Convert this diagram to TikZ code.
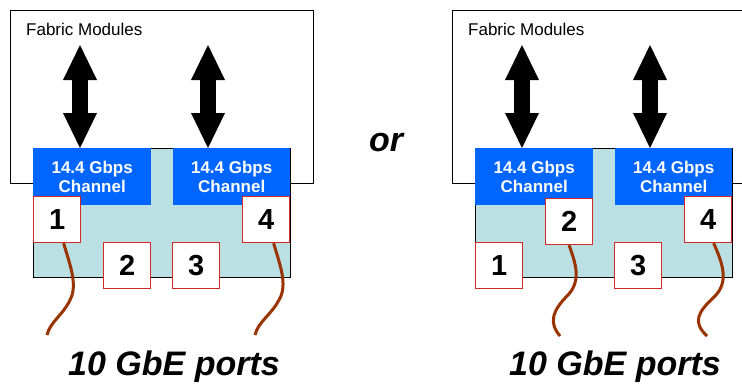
\documentclass[tikz,border=0pt]{standalone}
\usepackage{fontspec}
\setmainfont{Liberation Sans}
\usetikzlibrary{positioning, arrows.meta}

\definecolor{chanblue}{RGB}{0,102,255}
\definecolor{boardcyan}{RGB}{186,224,227}
\definecolor{portred}{RGB}{215,40,40}
\definecolor{cablebrown}{RGB}{153,51,0}

\tikzset{
  fabric/.style={draw=black, line width=1.3pt, minimum width=303pt, minimum height=173pt,
    anchor=north west, inner sep=0pt},
  board/.style={draw=black, line width=1pt, fill=boardcyan, minimum width=257pt,
    minimum height=129pt, anchor=north west, inner sep=0pt},
  channel/.style={fill=chanblue, text=white, align=center, minimum height=57pt,
    anchor=north west, inner sep=0pt, font=\bfseries\fontsize{17}{19}\selectfont},
  port/.style={draw=portred, line width=1.2pt, fill=white, minimum width=47pt,
    minimum height=46pt, anchor=north west, inner sep=0pt,
    font=\bfseries\fontsize{29}{30}\selectfont},
  bus/.style={line width=16pt,
    {Triangle[width=34pt,length=35pt,line width=0pt]}-{Triangle[width=34pt,length=35pt,line width=0pt]}},
  cable/.style={draw=cablebrown, line width=3pt},
  caption/.style={font=\bfseries\itshape\fontsize{34}{38}\selectfont},
  fablabel/.style={anchor=base west, inner sep=0pt, font=\fontsize{17}{19}\selectfont},
}

\begin{document}
\begin{tikzpicture}[x=1pt, y=-1pt]
  \useasboundingbox (0,0) rectangle (742,386);

  % left: ports split over both channels
  \node[fabric] (fabA) at (10,10) {};
  \node[fablabel] (fabtxtA) at (26,35) {Fabric Modules};
  \coordinate (topA1) at (80,45);
  \coordinate (topA2) at (208,45);
  \node[board] (boardA) at (33,148) {};
  \node[channel, minimum width=118pt] (chanA1) at (33,148) {14.4 Gbps\\Channel};
  \node[channel, minimum width=117pt] (chanA2) at (173,148) {14.4 Gbps\\Channel};
  \draw[bus] (topA1) -- (topA1 |- chanA1.north);
  \draw[bus] (topA2) -- (topA2 |- chanA2.north);
  \node[port] (portA1) at (33,196) {1};
  \node[port] (portA2) at (103,242) {2};
  \node[port] (portA3) at (172,242) {3};
  \node[port] (portA4) at (242,196) {4};
  \coordinate (endA1) at (47,335);
  \coordinate (endA4) at (255,335);
  \draw[cable] ([xshift=6.5]portA1.south) .. controls (70,265) and (78,285) .. (70,300)
    .. controls (63,315) and (50,322) .. (endA1);
  \draw[cable] ([xshift=7.5]portA4.south) .. controls (280,265) and (288,285) .. (279,300)
    .. controls (271,315) and (258,322) .. (endA4);
  \node[caption, anchor=base] (capA) at (174,375) {10 GbE ports};

  \node[caption] (or) at (386,143) {or};

  % right: ports paired per channel
  \node[fabric] (fabB) at (452,10) {};
  \node[fablabel] (fabtxtB) at (468,35) {Fabric Modules};
  \coordinate (topB1) at (522,45);
  \coordinate (topB2) at (650,45);
  \node[board] (boardB) at (475,148) {};
  \node[channel, minimum width=118pt] (chanB1) at (475,148) {14.4 Gbps\\Channel};
  \node[channel, minimum width=117pt] (chanB2) at (615,148) {14.4 Gbps\\Channel};
  \draw[bus] (topB1) -- (topB1 |- chanB1.north);
  \draw[bus] (topB2) -- (topB2 |- chanB2.north);
  \node[port] (portB1) at (475,242) {1};
  \node[port] (portB2) at (545,198) {2};
  \node[port] (portB3) at (614,242) {3};
  \node[port] (portB4) at (684,196) {4};
  \coordinate (endB2) at (560,336);
  \coordinate (endB4) at (707,336);
  \draw[cable] (portB2.south) .. controls (575,262) and (582,280) .. (568,295)
    .. controls (553,310) and (548,322) .. (endB2);
  \draw[cable] ([xshift=5.5]portB4.south) .. controls (722,262) and (730,282) .. (714,297)
    .. controls (698,312) and (692,322) .. (endB4);
  \node[caption, anchor=base] (capB) at (615,375) {10 GbE ports};
\end{tikzpicture}
\end{document}
